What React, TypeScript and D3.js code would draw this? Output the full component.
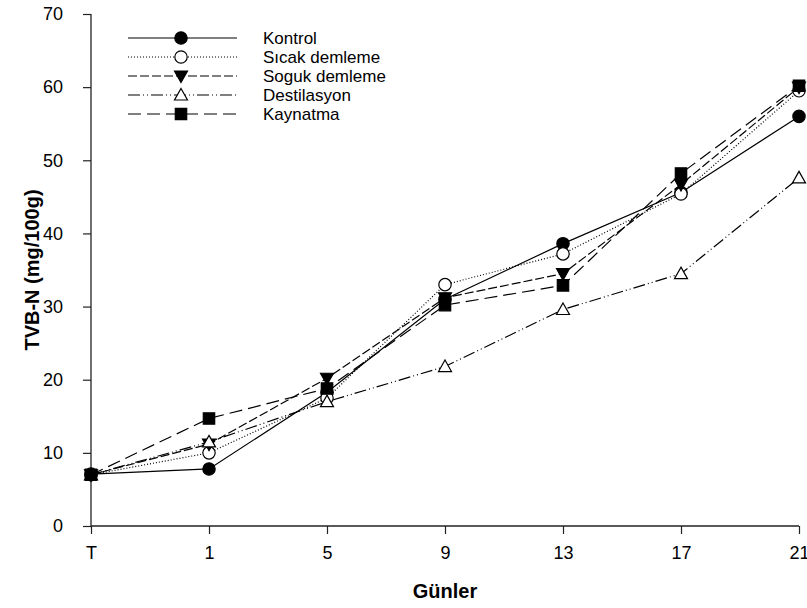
import React, { useEffect, useRef } from 'react';
import * as d3 from 'd3';

const days = ['T', '1', '5', '9', '13', '17', '21'];
const kontrol = [7.1, 7.8, 18.3, 31.0, 38.6, 45.6, 56.0];
const sicak = [7.0, 10.0, 17.5, 33.0, 37.2, 45.4, 59.5];
const soguk = [7.0, 11.2, 20.2, 31.2, 34.5, 46.7, 60.0];
const destilasyon = [7.0, 11.5, 17.0, 21.8, 29.6, 34.5, 47.6];
const kaynatma = [7.0, 14.7, 18.8, 30.2, 32.9, 48.2, 60.2];
const yTicks = [0, 10, 20, 30, 40, 50, 60, 70];

const seriesList = [
  { name: 'Kontrol', values: kontrol, dash: null, marker: 'circle', fill: '#000' },
  { name: 'Sıcak demleme', values: sicak, dash: '1,2', marker: 'circle', fill: '#fff' },
  { name: 'Soguk demleme', values: soguk, dash: '9,3', marker: 'triangleDown', fill: '#000' },
  { name: 'Destilasyon', values: destilasyon, dash: '12,3,1,3,1,3', marker: 'triangle', fill: '#fff' },
  { name: 'Kaynatma', values: kaynatma, dash: '13,6', marker: 'square', fill: '#000' },
];

function App() {
  const ref = useRef<SVGSVGElement>(null);
  const width = 807;
  const height = 608;

  useEffect(() => {
    drawChart();
  }, []);

  function markerPath(kind: string) {
    if (kind === 'circle') return d3.symbol(d3.symbolCircle, 120)();
    if (kind === 'square') return d3.symbol(d3.symbolSquare, 130)();
    if (kind === 'triangle') return 'M0,-6.5L6.5,5L-6.5,5Z';
    return 'M0,6.5L6.5,-5L-6.5,-5Z';
  }

  function drawChart() {
    const svg = d3.select(ref.current);
    svg.selectAll('*').remove();

    const x = d3.scalePoint().domain(days).range([91, 799]);
    const y = d3.scaleLinear().domain([0, 70]).range([526, 14]);
    const font = 'Liberation Sans, Arial, sans-serif';

    // axes
    const yAxis = svg
      .append('g')
      .attr('transform', 'translate(91,0)')
      .call(d3.axisLeft(y).tickValues(yTicks).tickSize(8).tickPadding(20));
    const xAxis = svg
      .append('g')
      .attr('transform', 'translate(0,526)')
      .call(d3.axisBottom(x).tickSize(8).tickPadding(12));
    [yAxis, xAxis].forEach((g) => {
      g.select('.domain').attr('stroke', '#222').attr('stroke-width', 1.3);
      g.selectAll('.tick line').attr('stroke', '#222').attr('stroke-width', 1.2);
      g.selectAll('.tick text')
        .attr('font-family', font)
        .attr('font-size', 18)
        .attr('fill', '#000');
    });
    yAxis.select('.domain').attr('d', 'M0,14V526');
    xAxis.select('.domain').attr('d', 'M91,0H799');

    svg
      .append('text')
      .attr('transform', 'translate(39,270) rotate(-90)')
      .attr('text-anchor', 'middle')
      .attr('font-family', font)
      .attr('font-weight', 'bold')
      .attr('font-size', 20)
      .text('TVB-N (mg/100g)');

    svg
      .append('text')
      .attr('x', 445)
      .attr('y', 598)
      .attr('text-anchor', 'middle')
      .attr('font-family', font)
      .attr('font-weight', 'bold')
      .attr('font-size', 20)
      .text('Günler');

    const line = d3
      .line<number>()
      .x((_, i) => x(days[i]) as number)
      .y((d) => y(d));

    seriesList.forEach((s) => {
      svg
        .append('path')
        .attr('d', line(s.values))
        .attr('fill', 'none')
        .attr('stroke', '#000')
        .attr('stroke-width', 1.2)
        .attr('stroke-dasharray', s.dash);
    });

    seriesList.forEach((s) => {
      svg
        .append('g')
        .selectAll('path')
        .data(s.values)
        .enter()
        .append('path')
        .attr('d', markerPath(s.marker))
        .attr('transform', (d, i) => `translate(${x(days[i])},${y(d)})`)
        .attr('fill', s.fill)
        .attr('stroke', '#000')
        .attr('stroke-width', 1.2);
    });

    // legend
    const legend = svg
      .append('g')
      .selectAll('g')
      .data(seriesList)
      .enter()
      .append('g')
      .attr('transform', (_, i) => `translate(0,${38 + i * 19})`);
    legend
      .append('line')
      .attr('x1', 128)
      .attr('x2', 237)
      .attr('stroke', '#000')
      .attr('stroke-width', 1.2)
      .attr('stroke-dasharray', (d) => d.dash);
    legend
      .append('path')
      .attr('d', (d) => markerPath(d.marker))
      .attr('transform', 'translate(181,0)')
      .attr('fill', (d) => d.fill)
      .attr('stroke', '#000')
      .attr('stroke-width', 1.2);
    legend
      .append('text')
      .attr('x', 263)
      .attr('y', 6)
      .attr('font-family', font)
      .attr('font-size', 17)
      .text((d) => d.name);
  }

  return (
    <svg
      ref={ref}
      width={width}
      height={height}
      style={{ position: 'absolute', left: 0, top: 0, background: '#fff' }}
    />
  );
}

export default App;
